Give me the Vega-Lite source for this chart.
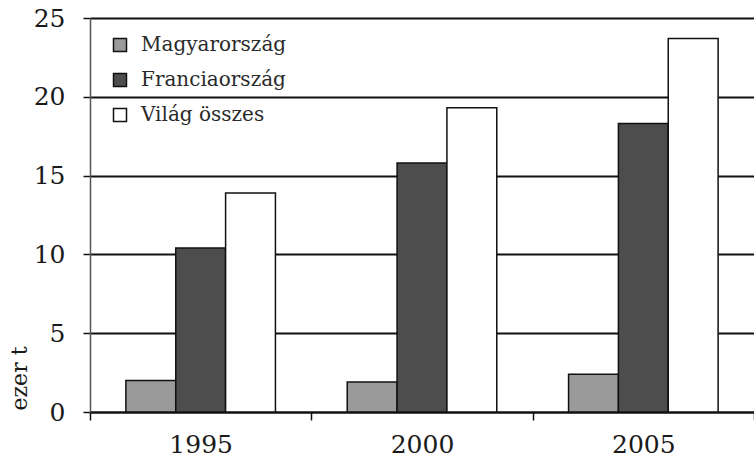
{
  "$schema": "https://vega.github.io/schema/vega-lite/v6.json",
  "width": 664,
  "height": 394,
  "autosize": {"type": "none"},
  "padding": {"left": 90, "top": 18, "right": 0, "bottom": 48},
  "background": "white",
  "config": {
    "view": {"stroke": null},
    "font": "DejaVu Serif"
  },
  "data": {
    "values": [
      {"ev": "1995", "sorozat": "Magyarország", "ertek": 2.0},
      {"ev": "1995", "sorozat": "Franciaország", "ertek": 10.4},
      {"ev": "1995", "sorozat": "Világ összes", "ertek": 13.9},
      {"ev": "2000", "sorozat": "Magyarország", "ertek": 1.9},
      {"ev": "2000", "sorozat": "Franciaország", "ertek": 15.8},
      {"ev": "2000", "sorozat": "Világ összes", "ertek": 19.3},
      {"ev": "2005", "sorozat": "Magyarország", "ertek": 2.4},
      {"ev": "2005", "sorozat": "Franciaország", "ertek": 18.3},
      {"ev": "2005", "sorozat": "Világ összes", "ertek": 23.7}
    ]
  },
  "mark": {"type": "bar", "stroke": "#111", "strokeWidth": 1.5},
  "encoding": {
    "x": {
      "field": "ev",
      "type": "nominal",
      "scale": {"paddingInner": 0, "paddingOuter": 0},
      "axis": {
        "title": null,
        "labelAngle": 0,
        "labelFont": "DejaVu Serif",
        "labelFontSize": 25,
        "labelColor": "#1a1a1a",
        "labelPadding": 12,
        "tickBand": "extent",
        "tickSize": 8,
        "tickColor": "#111",
        "tickWidth": 1.5,
        "domainColor": "#111",
        "domainWidth": 2,
        "grid": false
      }
    },
    "xOffset": {
      "field": "sorozat",
      "type": "nominal",
      "sort": ["Magyarország", "Franciaország", "Világ összes"],
      "scale": {"paddingInner": 0, "paddingOuter": 0.72}
    },
    "y": {
      "field": "ertek",
      "type": "quantitative",
      "scale": {"domain": [0, 25], "nice": false},
      "axis": {
        "values": [0, 5, 10, 15, 20, 25],
        "title": "ezer t",
        "titleFont": "DejaVu Serif",
        "titleFontSize": 22,
        "titleFontWeight": "normal",
        "titleColor": "#1a1a1a",
        "titleAngle": 270,
        "titleAlign": "left",
        "titleBaseline": "middle",
        "titleX": -71,
        "titleY": 392,
        "labelFont": "DejaVu Serif",
        "labelFontSize": 25,
        "labelColor": "#1a1a1a",
        "labelPadding": 18,
        "tickSize": 7,
        "tickColor": "#111",
        "tickWidth": 1.5,
        "domainColor": "#555",
        "domainWidth": 1.5,
        "grid": true,
        "gridColor": "#111",
        "gridWidth": 2
      }
    },
    "fill": {
      "field": "sorozat",
      "type": "nominal",
      "sort": ["Magyarország", "Franciaország", "Világ összes"],
      "scale": {
        "domain": ["Magyarország", "Franciaország", "Világ összes"],
        "range": ["#9a9a9a", "#4d4d4d", "#ffffff"]
      },
      "legend": {
        "title": null,
        "orient": "none",
        "legendX": 20,
        "legendY": 17,
        "padding": 0,
        "symbolType": "square",
        "symbolSize": 169,
        "symbolStrokeColor": "#111",
        "symbolStrokeWidth": 1.5,
        "symbolOffset": 0,
        "labelFont": "DejaVu Serif",
        "labelFontSize": 20,
        "labelColor": "#2a2a2a",
        "labelOffset": 11,
        "rowPadding": 15
      }
    }
  }
}
